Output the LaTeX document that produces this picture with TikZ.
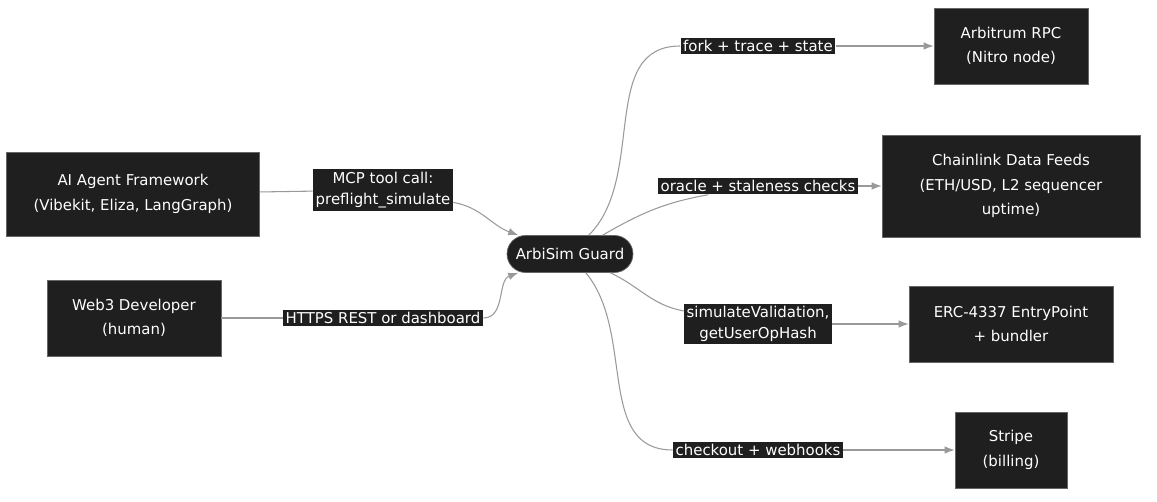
\documentclass[tikz,border=0pt]{standalone}
\usepackage{fontspec}
\setmainfont{DejaVu Sans}
\usetikzlibrary{arrows.meta}
\tikzset{>=Latex}
\definecolor{boxcol}{HTML}{1F1F1F}
\tikzset{box/.style = {draw=black!60,fill=boxcol,text=white,align=center,font=\fontsize{8.5}{14}\selectfont,inner sep=2pt},
         lab/.style = {fill=boxcol,text=white,align=center,font=\fontsize{8.5}{12}\selectfont,inner sep=1.5pt},
         link/.style = {draw=gray!80,line width=0.6pt}}
\begin{document}
\begin{tikzpicture}[x=0.02cm,y=-0.02cm]
                \useasboundingbox (0,0) rectangle (1157,502);
                \node[box,minimum width=5.06cm,minimum height=1.68cm] (ai) at (133,194) {AI Agent Framework\\(Vibekit, Eliza, LangGraph)};
                \node[box,minimum width=3.48cm,minimum height=1.52cm] (dev) at (134,318) {Web3 Developer\\(human)};
                \node[box,rounded corners=0.37cm,minimum width=2.52cm,minimum height=0.74cm] (guard) at (570,254) {ArbiSim Guard};
                \node[box,minimum width=3.08cm,minimum height=1.52cm] (rpc) at (1011,46) {Arbitrum RPC\\(Nitro node)};
                \node[box,minimum width=5.16cm,minimum height=2.04cm] (link) at (1011,186) {Chainlink Data Feeds\\(ETH/USD, L2 sequencer\\uptime)};
                \node[box,minimum width=4.08cm,minimum height=1.52cm] (erc) at (1011,324) {ERC-4337 EntryPoint\\+ bundler};
                \node[box,minimum width=2.24cm,minimum height=1.52cm] (stripe) at (1011,450) {Stripe\\(billing)};

                \node[lab] (mcp) at (383,190) {MCP tool call:\\preflight\_simulate};
                \node[lab] (https) at (383,318) {HTTPS REST or dashboard};
                \node[lab] (fork) at (758,46) {fork + trace + state};
                \node[lab] (oracle) at (758,186) {oracle + staleness checks};
                \node[lab] (sim) at (758,324) {simulateValidation,\\getUserOpHash};
                \node[lab] (pay) at (758,450) {checkout + webhooks};

                \draw[link] (ai) -- (mcp);
                \draw[link,->] (mcp) to[out=-10,in=160] (guard);
                \draw[link] (dev) -- (https);
                \draw[link,->] (https) to[out=0,in=200] (guard);

                \draw[link] (guard) to[out=45,in=180] (fork);
                \draw[link,->] (fork) to[out=0,in=180] (rpc);
                \draw[link] (guard) to[out=30,in=190] (oracle);
                \draw[link,->] (oracle) -- (link);
                \draw[link] (guard) to[out=-25,in=170] (sim);
                \draw[link,->] (sim) -- (erc);
                \draw[link] (guard) to[out=-50,in=180] (pay);
                \draw[link,->] (pay) to[out=0,in=180] (stripe);
\end{tikzpicture}
\end{document}
